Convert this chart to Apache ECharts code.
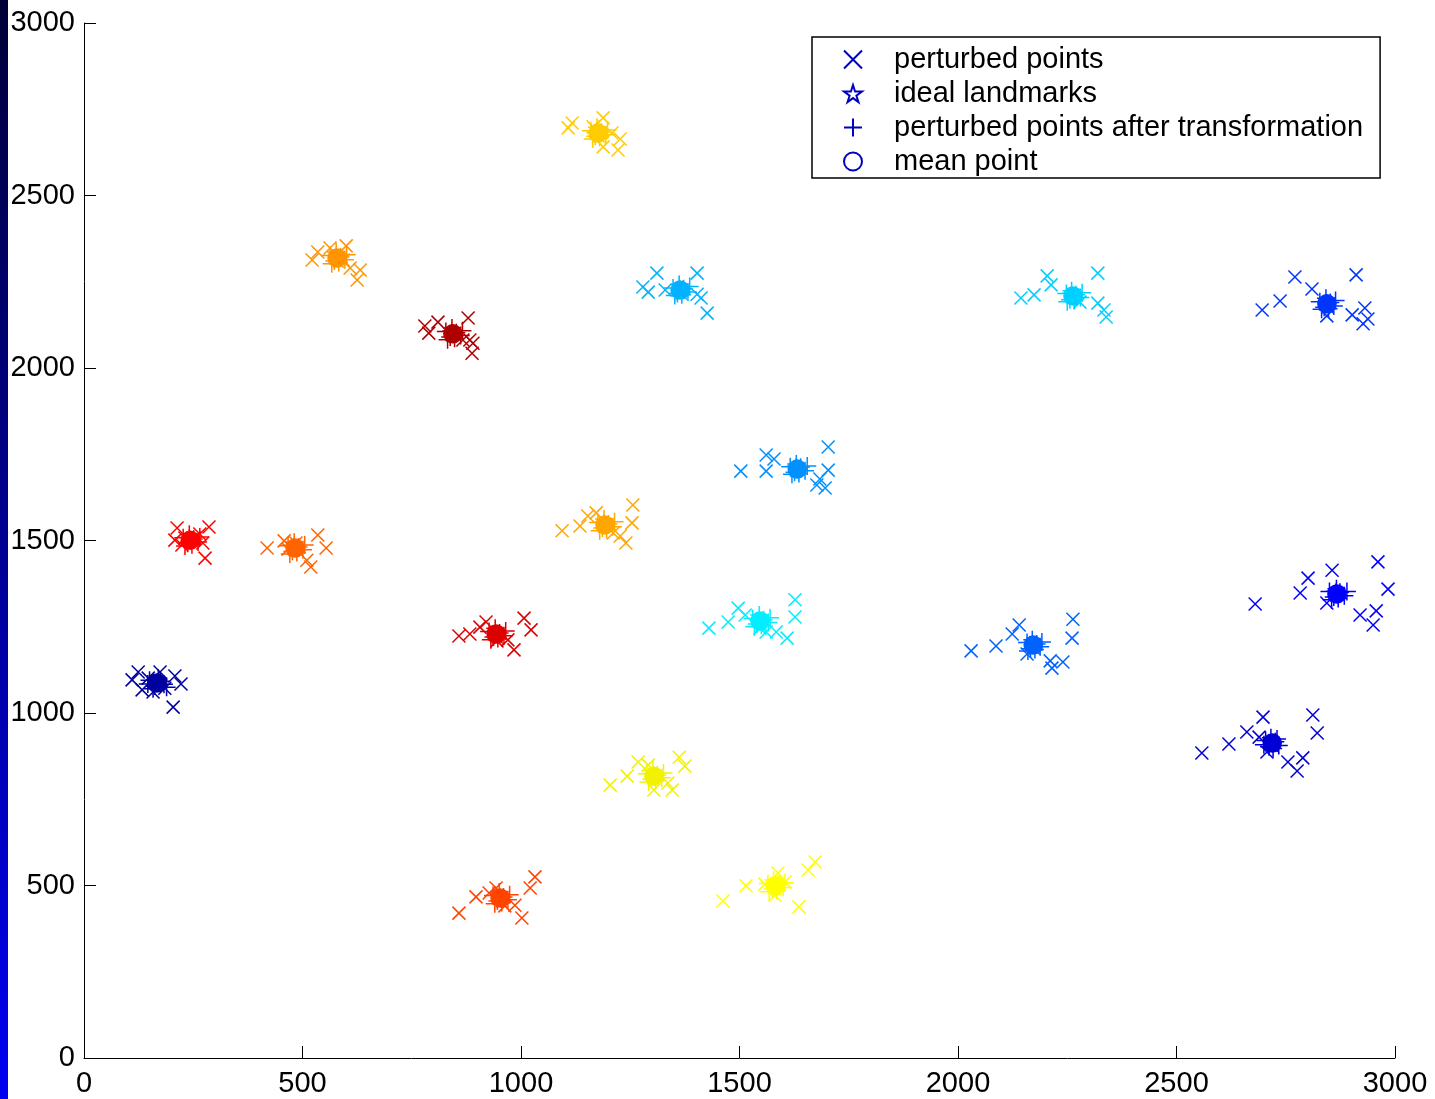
<!DOCTYPE html>
<html>
<head>
    <meta charset="utf-8">
    <style>
        html, body { width: 100%; height: 100%; margin: 0; background: #fff; }
        #chart-panel { width: 1435px; height: 1099px; }
    </style>
    <script src="https://cdn.jsdelivr.net/npm/echarts@6/dist/echarts.min.js"></script>
</head>
<body>
<div id="chart-panel"></div>
<script type="text/javascript">
  // one colour per landmark cluster (jet-like)
  var clusterColors = ['#00009f', '#0000d4', '#0000ff', '#0035ff', '#0062ff', '#0090ff', '#00b2ff',
    '#00d0ff', '#00eeff', '#f2f200', '#ffff00', '#ffcc00', '#ffa600', '#ff9400', '#ff6400',
    '#ff4400', '#ff0000', '#dc0000', '#ad0000']

  var means = [[167, 1087], [2719, 913], [2867, 1345], [2844, 2186], [2172, 1197], [1632, 1707],
    [1364, 2226], [2263, 2209], [1547, 1267], [1304, 817], [1581, 499], [1176, 2681], [1192, 1545],
    [579, 2319], [483, 1478], [952, 464], [243, 1501], [943, 1229], [844, 2099]]

  var landmarks = [[170, 1090], [2722, 910], [2864, 1348], [2847, 2183], [2175, 1194], [1629, 1710],
    [1367, 2223], [2260, 2212], [1550, 1264], [1301, 820], [1584, 496], [1179, 2678], [1189, 1548],
    [582, 2316], [480, 1481], [955, 461], [240, 1504], [946, 1226], [841, 2102]]

  var perturbed = [
    [[124, 1119], [133, 1067], [147, 1101], [174, 1119], [208, 1107], [222, 1084], [204, 1017], [158, 1061], [185, 1072], [110, 1096]],
    [[2558, 884], [2620, 910], [2661, 945], [2698, 988], [2689, 930], [2812, 994], [2822, 942], [2755, 858], [2789, 870], [2776, 832], [2707, 887]],
    [[2680, 1316], [2783, 1348], [2801, 1391], [2856, 1414], [2844, 1319], [2961, 1438], [2984, 1359], [2957, 1296], [2920, 1284], [2950, 1255]],
    [[2696, 2168], [2737, 2194], [2771, 2264], [2810, 2229], [2911, 2270], [2844, 2151], [2902, 2154], [2931, 2174], [2938, 2142], [2927, 2128]],
    [[2030, 1180], [2087, 1194], [2124, 1229], [2140, 1255], [2263, 1272], [2261, 1217], [2158, 1171], [2211, 1151], [2240, 1148], [2215, 1130]],
    [[1503, 1701], [1561, 1748], [1579, 1736], [1561, 1701], [1703, 1771], [1703, 1704], [1677, 1661], [1696, 1652], [1684, 1678]],
    [[1279, 2235], [1291, 2220], [1311, 2275], [1403, 2275], [1403, 2214], [1412, 2203], [1426, 2159], [1330, 2226]],
    [[2144, 2203], [2174, 2212], [2204, 2267], [2213, 2241], [2320, 2275], [2320, 2188], [2334, 2168], [2339, 2148], [2279, 2191]],
    [[1430, 1246], [1474, 1264], [1497, 1304], [1513, 1284], [1561, 1235], [1584, 1235], [1609, 1217], [1627, 1328], [1627, 1278], [1547, 1246]],
    [[1204, 791], [1243, 817], [1268, 858], [1291, 849], [1336, 797], [1346, 777], [1362, 872], [1375, 846], [1304, 777]],
    [[1462, 455], [1515, 499], [1558, 504], [1588, 536], [1604, 510], [1636, 438], [1657, 545], [1673, 568], [1581, 472]],
    [[1108, 2696], [1117, 2710], [1188, 2725], [1208, 2681], [1227, 2664], [1222, 2632], [1188, 2641], [1165, 2699]],
    [[1094, 1528], [1135, 1542], [1153, 1571], [1172, 1580], [1211, 1522], [1227, 1513], [1240, 1493], [1254, 1551], [1256, 1603]],
    [[522, 2313], [535, 2336], [563, 2348], [600, 2354], [593, 2313], [609, 2290], [625, 2255], [632, 2284]],
    [[419, 1478], [458, 1499], [467, 1475], [485, 1493], [510, 1443], [519, 1423], [535, 1516], [554, 1478]],
    [[858, 420], [897, 467], [927, 478], [943, 493], [986, 443], [1002, 406], [1021, 493], [1032, 525], [963, 441]],
    [[208, 1501], [213, 1536], [231, 1507], [254, 1507], [272, 1493], [277, 1449], [286, 1539], [265, 1519], [224, 1487]],
    [[858, 1223], [883, 1229], [906, 1249], [920, 1264], [970, 1212], [984, 1183], [1007, 1275], [1023, 1241], [945, 1209]],
    [[780, 2122], [789, 2101], [810, 2133], [879, 2145], [883, 2081], [890, 2072], [888, 2043], [867, 2081]]
  ]

  var transformed = [
    [[150, 1095], [162, 1078], [175, 1092], [183, 1083], [158, 1070], [170, 1101], [189, 1075], [146, 1084]],
    [[2704, 920], [2712, 902], [2726, 917], [2734, 906], [2716, 928], [2700, 908], [2730, 925], [2721, 897]],
    [[2850, 1352], [2860, 1336], [2874, 1350], [2884, 1340], [2866, 1360], [2855, 1328], [2890, 1352], [2870, 1332]],
    [[2828, 2192], [2838, 2176], [2852, 2190], [2860, 2180], [2842, 2202], [2832, 2170], [2864, 2196], [2848, 2172]],
    [[2158, 1204], [2166, 1186], [2180, 1200], [2188, 1192], [2170, 1212], [2160, 1180], [2192, 1206], [2176, 1184]],
    [[1616, 1714], [1626, 1698], [1640, 1712], [1650, 1702], [1630, 1722], [1620, 1692], [1655, 1716], [1636, 1694]],
    [[1348, 2232], [1358, 2216], [1372, 2230], [1382, 2220], [1362, 2242], [1352, 2210], [1386, 2236], [1368, 2212]],
    [[2248, 2216], [2256, 2198], [2270, 2212], [2280, 2204], [2260, 2224], [2250, 2192], [2284, 2218], [2266, 2196]],
    [[1530, 1274], [1540, 1258], [1555, 1270], [1566, 1262], [1545, 1284], [1534, 1250], [1570, 1276], [1550, 1254]],
    [[1288, 824], [1298, 808], [1312, 820], [1322, 812], [1302, 834], [1292, 800], [1326, 826], [1308, 804]],
    [[1565, 506], [1575, 490], [1590, 502], [1600, 494], [1578, 516], [1568, 482], [1604, 508], [1585, 486]],
    [[1160, 2688], [1170, 2672], [1184, 2684], [1194, 2676], [1174, 2698], [1164, 2664], [1198, 2690], [1180, 2668]],
    [[1176, 1552], [1186, 1536], [1200, 1548], [1210, 1540], [1190, 1562], [1180, 1528], [1214, 1554], [1196, 1532]],
    [[563, 2326], [573, 2310], [587, 2322], [597, 2314], [577, 2336], [567, 2302], [601, 2328], [583, 2306]],
    [[467, 1485], [477, 1469], [491, 1481], [501, 1473], [481, 1495], [471, 1461], [505, 1487], [487, 1465]],
    [[936, 471], [946, 455], [960, 467], [970, 459], [950, 481], [940, 447], [974, 473], [956, 451]],
    [[227, 1508], [237, 1492], [251, 1504], [261, 1496], [241, 1518], [231, 1484], [265, 1510], [247, 1488]],
    [[927, 1236], [937, 1220], [951, 1232], [961, 1224], [941, 1246], [931, 1212], [965, 1238], [947, 1216]],
    [[828, 2106], [838, 2090], [852, 2102], [862, 2094], [842, 2116], [832, 2082], [866, 2108], [848, 2086]]
  ]

  var axisTicks = [0, 500, 1000, 1500, 2000, 2500, 3000]

  var legendColor = '#0000bf'
  var fontName = 'Liberation Sans'
  var xMark = 'path://M0,0L10,10M10,0L0,10'
  var plusMark = 'path://M5,0L5,10M0,5L10,5'
  var starMark = 'path://M50,0L61,35L98,35L68,57L79,91L50,70L21,91L32,57L2,35L39,35Z'

  function colored(groups, fill) {
    var out = []
    groups.forEach(function (pts, i) {
      pts.forEach(function (p) {
        var st = {borderColor: clusterColors[i]}
        if (fill) st.color = clusterColors[i]
        out.push({value: p, itemStyle: st})
      })
    })
    return out
  }

  var myChart = echarts.init(document.getElementById('chart-panel'))

  var axisCommon = {
    type: 'value',
    min: 0,
    max: 3000,
    interval: 500,
    splitLine: {show: false},
    axisLine: {show: true, lineStyle: {color: '#000', width: 1}},
    axisTick: {show: true, inside: true, length: 12, lineStyle: {color: '#000'}},
    axisLabel: {color: '#000', fontSize: 29, fontFamily: fontName,
      formatter: function (v) { return axisTicks.indexOf(v) >= 0 ? String(v) : '' }}
  }

  var markStyle = {color: 'transparent', borderColor: legendColor, borderWidth: 1.5, opacity: 1}

  var option = {
    animation: false,
    backgroundColor: '#fff',
    grid: {left: 84, right: 40, top: 23, bottom: 41},
    xAxis: Object.assign({}, axisCommon, {axisLabel: Object.assign({}, axisCommon.axisLabel, {margin: 11})}),
    yAxis: Object.assign({}, axisCommon, {axisLabel: Object.assign({}, axisCommon.axisLabel, {margin: 9})}),
    legend: {
      left: 812,
      top: 37,
      orient: 'vertical',
      backgroundColor: '#fff',
      borderColor: '#000',
      borderWidth: 1.5,
      borderRadius: 0,
      padding: [8, 17, 2, 31],
      itemWidth: 18,
      itemHeight: 18,
      itemGap: 5,
      textStyle: {fontSize: 29, fontFamily: fontName, color: '#000', lineHeight: 29, padding: [0, 0, 0, 27]},
      data: [
        {name: 'perturbed points', icon: xMark},
        {name: 'ideal landmarks', icon: starMark},
        {name: 'perturbed points after transformation', icon: plusMark},
        {name: 'mean point', icon: 'circle'}
      ]
    },
    graphic: [{
      type: 'rect',
      left: 0,
      top: 0,
      shape: {width: 8, height: 1099},
      style: {fill: new echarts.graphic.LinearGradient(0, 0, 0, 1, [
        {offset: 0, color: '#000038'}, {offset: 1, color: '#0000f2'}])}
    }],
    series: [
      {
        name: 'perturbed points',
        type: 'scatter',
        symbol: xMark,
        symbolSize: 13,
        itemStyle: markStyle,
        data: colored(perturbed, false)
      },
      {
        name: 'ideal landmarks',
        type: 'scatter',
        symbol: starMark,
        symbolSize: 15,
        itemStyle: markStyle,
        data: colored(landmarks.map(function (p) { return [p] }), false)
      },
      {
        name: 'perturbed points after transformation',
        type: 'scatter',
        symbol: plusMark,
        symbolSize: 18,
        itemStyle: markStyle,
        data: colored(transformed, false)
      },
      {
        name: 'mean point',
        type: 'scatter',
        symbol: 'circle',
        symbolSize: 18,
        itemStyle: markStyle,
        data: colored(means.map(function (p) { return [p] }), true)
      }
    ]
  }

  myChart.setOption(option)
</script>
</body>
</html>
